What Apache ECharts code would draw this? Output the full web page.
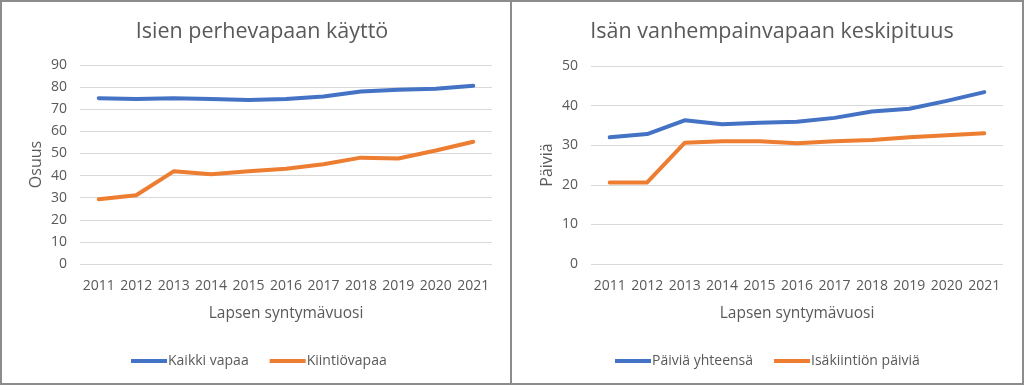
<!DOCTYPE html>
<html>
<head>
<meta charset="utf-8">
<script src="https://cdn.jsdelivr.net/npm/echarts@6/dist/echarts.min.js"></script>
<style>
html,body{margin:0;padding:0;background:#fff;}
#c{width:1024px;height:385px;}
</style>
</head>
<body>
<div id="c"></div>
<script>
const years = ['2011','2012','2013','2014','2015','2016','2017','2018','2019','2020','2021'];
const kaikkiVapaa = [75.0, 74.6, 75.0, 74.6, 74.2, 74.6, 75.8, 78.0, 78.8, 79.3, 80.6];
const kiintioVapaa = [29.3, 31.1, 41.9, 40.6, 42.0, 43.1, 45.1, 48.1, 47.7, 51.3, 55.3];
const paiviaYhteensa = [32.0, 32.8, 36.3, 35.3, 35.7, 35.9, 36.9, 38.5, 39.2, 41.2, 43.4];
const isakiintionPaivia = [20.6, 20.6, 30.6, 31.0, 31.0, 30.5, 31.0, 31.3, 32.0, 32.5, 33.0];
const leftTitle = 'Isien perhevapaan käyttö';
const rightTitle = 'Isän vanhempainvapaan keskipituus';
const xName = 'Lapsen syntymävuosi';

const FONT = '"Open Sans", sans-serif';
const TXT = '#595959';
const BLUE = '#4472C4';
const ORANGE = '#ED7D31';

function xAxis(gi){
  return {
    type:'category', gridIndex:gi, data:years, boundaryGap:true,
    axisLine:{show:false}, axisTick:{show:false},
    axisLabel:{color:TXT, fontFamily:FONT, fontSize:14, margin:15, interval:0, hideOverlap:false},
    name:xName, nameLocation:'middle', nameGap:42,
    nameTextStyle:{color:TXT, fontFamily:FONT, fontSize:15.5}
  };
}
function yAxis(gi, max, name){
  return {
    type:'value', gridIndex:gi, min:0, max:max, interval:10,
    axisLine:{show:false}, axisTick:{show:false},
    splitLine:{lineStyle:{color:'#d9d9d9', width:1}},
    axisLabel:{color:TXT, fontFamily:FONT, fontSize:14, margin:13},
    name:name, nameLocation:'middle', nameGap:36, nameRotate:90,
    nameTextStyle:{color:TXT, fontFamily:FONT, fontSize:16}
  };
}
function line(name, data, gi, color){
  return {
    type:'line', name:name, data:data, xAxisIndex:gi, yAxisIndex:gi,
    symbol:'none', smooth:false,
    lineStyle:{color:color, width:4, cap:'round', join:'round'},
    itemStyle:{color:color}
  };
}
const legendBase = {
  icon:'rect', itemWidth:36, itemHeight:4, itemGap:21,
  textStyle:{color:TXT, fontFamily:FONT, fontSize:14, padding:[0,0,0,-4]},
  top:349
};

const chart = echarts.init(document.getElementById('c'), null, {renderer:'canvas'});
chart.setOption({
  animation:false,
  backgroundColor:'#fff',
  title:[
    {text:leftTitle, left:257, top:16, textAlign:'center',
     textStyle:{color:TXT, fontFamily:FONT, fontSize:21.5, fontWeight:'normal'}},
    {text:rightTitle, left:767, top:16, textAlign:'center',
     textStyle:{color:TXT, fontFamily:FONT, fontSize:21.5, fontWeight:'normal'}}
  ],
  legend:[
    Object.assign({}, legendBase, {left:126, data:['Kaikki vapaa','Kiintiövapaa']}),
    Object.assign({}, legendBase, {left:610, data:['Päiviä yhteensä','Isäkiintiön päiviä']})
  ],
  grid:[
    {left:80, top:65, width:412, height:199},
    {left:591, top:66, width:412, height:198}
  ],
  xAxis:[xAxis(0), xAxis(1)],
  yAxis:[yAxis(0, 90, 'Osuus'), yAxis(1, 50, 'Päiviä')],
  series:[
    line('Kaikki vapaa', kaikkiVapaa, 0, BLUE),
    line('Kiintiövapaa', kiintioVapaa, 0, ORANGE),
    line('Päiviä yhteensä', paiviaYhteensa, 1, BLUE),
    line('Isäkiintiön päiviä', isakiintionPaivia, 1, ORANGE)
  ],
  graphic:[
    {type:'rect', shape:{x:1, y:1, width:1022, height:383}, style:{fill:null, stroke:'#8c8c8c', lineWidth:2}, silent:true},
    {type:'rect', shape:{x:510, y:0, width:2, height:385}, style:{fill:'#8c8c8c'}, silent:true}
  ]
});
</script>
</body>
</html>
